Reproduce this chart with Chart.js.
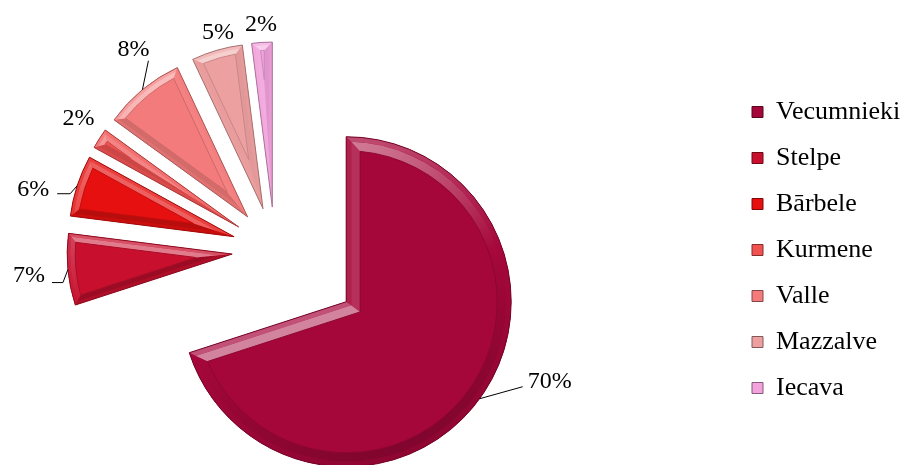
<!DOCTYPE html>
<html>
<head>
<meta charset="utf-8">
<script src="https://cdn.jsdelivr.net/npm/chart.js@4.4.1/dist/chart.umd.min.js"></script>
<style>
  html, body { margin: 0; background: #fff; }
  #wrap { width: 907px; height: 465px; }
</style>
</head>
<body>
<div id="wrap"><canvas id="pieChart"></canvas></div>
<script>
// data
const categories = ['Vecumnieki', 'Stelpe', 'Bārbele', 'Kurmene', 'Valle', 'Mazzalve', 'Iecava'];
const shares = [70, 7, 6, 2, 8, 5, 2];
const percentLabels = ['70%', '7%', '6%', '2%', '8%', '5%', '2%'];

// style
const colours = ['#a6073b', '#c8102e', '#e5100f', '#f05252', '#f37b7b', '#eda0a0', '#f2a2dc'];
const explode = [88, 43, 43, 43, 43, 43, 43];
const labelNudge = [[70, -19], [-39, 4], [-44, 2], [-21, -22], [-9, -42], [1, -19], [-1, -19]];
const leaders = [
    [[-27, 7]],
    [[34, 9], [23, 9]],
    [[37, 6], [24, 6]],
    null,
    [[15, 13]],
    null,
    null
];
const pieAreaWidth = 550;
const serif = "'Liberation Serif', 'Times New Roman', serif";

function shade(hex, k) {
    const n = parseInt(hex.slice(1), 16);
    let r = (n >> 16) & 255, g = (n >> 8) & 255, b = n & 255;
    const t = k > 0 ? 255 : 0, a = Math.min(Math.abs(k), 1);
    r = Math.round(r + (t - r) * a);
    g = Math.round(g + (t - g) * a);
    b = Math.round(b + (t - b) * a);
    return 'rgb(' + r + ',' + g + ',' + b + ')';
}

const light = (function() {
    const l = Math.hypot(-0.35, -1);
    return [-0.35 / l, -1 / l];
})();

function pt(cx, cy, r, a) {
    return [cx + Math.cos(a) * r, cy + Math.sin(a) * r];
}

function insetGeom(el, i) {
    const a0 = el.startAngle, a1 = el.endAngle, R = el.outerRadius;
    const half = (a1 - a0) / 2, mid = a0 + half;
    const dv = i === 0 ? 0 : i / Math.sin(half);
    const r = R - i;
    const d = Math.asin(i / r);
    return { v: pt(el.x, el.y, dv, mid), r: r, s: a0 + d, e: a1 - d, ok: dv < r - 2 };
}

// lighter on faces turned to the light, darker (but softer) on the others
function lit(base, k, ang) {
    const b = Math.cos(ang) * light[0] + Math.sin(ang) * light[1];
    return shade(base, b > 0 ? k * b : k * 0.45 * b);
}

function band(ctx, el, i0, i1, k, base) {
    const g0 = insetGeom(el, i0), g1 = insetGeom(el, i1);
    if (!g1.ok) return;
    const x = el.x, y = el.y;
    // start edge
    ctx.beginPath();
    ctx.moveTo(g0.v[0], g0.v[1]);
    ctx.lineTo(...pt(x, y, g0.r, g0.s));
    ctx.lineTo(...pt(x, y, g1.r, g1.s));
    ctx.lineTo(g1.v[0], g1.v[1]);
    ctx.closePath();
    ctx.fillStyle = lit(base, k, el.startAngle - Math.PI / 2);
    ctx.fill();
    // end edge
    ctx.beginPath();
    ctx.moveTo(g0.v[0], g0.v[1]);
    ctx.lineTo(...pt(x, y, g0.r, g0.e));
    ctx.lineTo(...pt(x, y, g1.r, g1.e));
    ctx.lineTo(g1.v[0], g1.v[1]);
    ctx.closePath();
    ctx.fillStyle = lit(base, k, el.endAngle + Math.PI / 2);
    ctx.fill();
    // arc rim
    const grad = ctx.createConicGradient(0, x, y);
    for (let s = 0; s <= 36; s++) {
        grad.addColorStop(s / 36, lit(base, k, s / 36 * Math.PI * 2));
    }
    ctx.beginPath();
    ctx.moveTo(...pt(x, y, g0.r, g0.s));
    ctx.arc(x, y, g0.r, g0.s, g0.e);
    ctx.lineTo(...pt(x, y, g1.r, g1.e));
    ctx.arc(x, y, g1.r, g1.e, g1.s, true);
    ctx.closePath();
    ctx.fillStyle = grad;
    ctx.fill();
}

// keep the pie in the left part of the canvas, legend stays at the right edge
const pieAreaPlugin = {
    id: 'pieArea',
    afterLayout(chart) {
        const a = chart.chartArea;
        a.right = a.left + pieAreaWidth;
        a.width = pieAreaWidth;
    }
};

const explodePlugin = {
    id: 'explode',
    afterDatasetUpdate(chart, args) {
        args.meta.data.forEach(function(el, i) {
            const mid = (el.startAngle + el.endAngle) / 2;
            el.x += Math.cos(mid) * explode[i];
            el.y += Math.sin(mid) * explode[i];
        });
    }
};

const bevelPlugin = {
    id: 'bevel',
    afterDatasetDraw(chart, args) {
        const ctx = chart.ctx;
        args.meta.data.forEach(function(el, i) {
            const big = i === 0;
            const base = colours[i];
            ctx.save();
            band(ctx, el, 0, big ? 5 : 3, 0.3, base);
            band(ctx, el, big ? 5 : 3, big ? 14 : 8, 0.5, base);
            // crease line + outline
            const gi = insetGeom(el, big ? 14 : 8);
            if (gi.ok) {
                ctx.beginPath();
                ctx.moveTo(gi.v[0], gi.v[1]);
                ctx.arc(el.x, el.y, gi.r, gi.s, gi.e);
                ctx.closePath();
                ctx.strokeStyle = shade(base, -0.15);
                ctx.lineWidth = 1;
                ctx.stroke();
            }
            ctx.beginPath();
            ctx.moveTo(el.x, el.y);
            ctx.arc(el.x, el.y, el.outerRadius, el.startAngle, el.endAngle);
            ctx.closePath();
            ctx.strokeStyle = shade(base, -0.3);
            ctx.lineWidth = 1;
            ctx.stroke();
            ctx.restore();
        });
    }
};

const labelPlugin = {
    id: 'pctLabels',
    afterDraw(chart) {
        const ctx = chart.ctx;
        const meta = chart.getDatasetMeta(0);
        ctx.save();
        ctx.font = '24px ' + serif;
        ctx.fillStyle = '#000';
        ctx.textAlign = 'center';
        ctx.textBaseline = 'alphabetic';
        meta.data.forEach(function(el, i) {
            const mid = (el.startAngle + el.endAngle) / 2;
            const ax = el.x + Math.cos(mid) * el.outerRadius;
            const ay = el.y + Math.sin(mid) * el.outerRadius;
            const cx = ax + labelNudge[i][0];
            const cy = ay + labelNudge[i][1];
            ctx.fillText(percentLabels[i], cx, cy + 8);
            if (leaders[i]) {
                ctx.beginPath();
                ctx.moveTo(ax, ay);
                leaders[i].forEach(function(p) { ctx.lineTo(cx + p[0], cy + p[1]); });
                ctx.strokeStyle = '#000';
                ctx.lineWidth = 1;
                ctx.stroke();
            }
        });
        ctx.restore();
    }
};

document.addEventListener('DOMContentLoaded', function() {
    const ctx = document.getElementById('pieChart');
    const baseLabels = Chart.overrides.doughnut.plugins.legend.labels.generateLabels;

    new Chart(ctx, {
        type: 'pie',
        data: {
            labels: categories,
            datasets: [{
                data: shares,
                backgroundColor: colours,
                borderWidth: 0
            }]
        },
        options: {
            responsive: true,
            maintainAspectRatio: false,
            animation: false,
            events: [],
            radius: 165,
            layout: {
                padding: { left: 0, top: 35, right: 0, bottom: 0 }
            },
            plugins: {
                tooltip: { enabled: false },
                legend: {
                    position: 'right',
                    maxWidth: 175,
                    labels: {
                        color: '#000',
                        boxWidth: 11,
                        boxHeight: 11,
                        padding: 20,
                        font: { family: serif, size: 26 },
                        generateLabels(chart) {
                            const items = baseLabels(chart);
                            items.forEach(function(it, i) {
                                it.strokeStyle = shade(colours[i], -0.45);
                                it.lineWidth = 1;
                            });
                            return items;
                        }
                    }
                }
            }
        },
        plugins: [pieAreaPlugin, explodePlugin, bevelPlugin, labelPlugin]
    });
});
</script>
</body>
</html>
